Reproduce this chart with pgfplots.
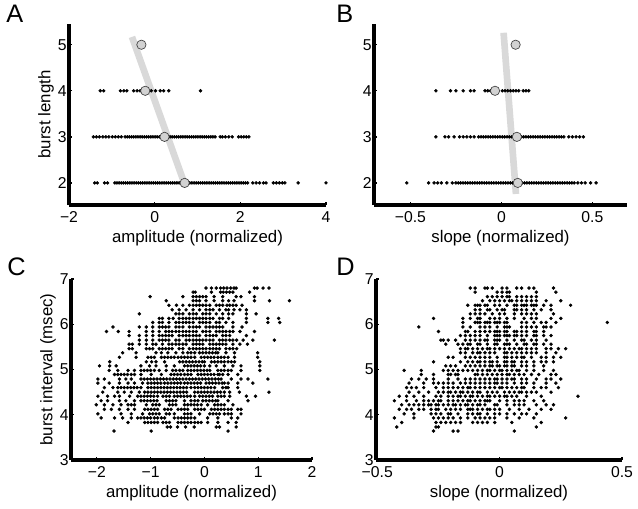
\documentclass[border=0pt]{standalone}
\usepackage{pgfplots}
\pgfplotsset{compat=1.18}
\usepackage{fontspec}
\setmainfont{Liberation Sans}
\pgfplotsset{panel/.style={
  scale only axis, clip=false, enlargelimits=false,
  axis x line=bottom, axis y line=left,
  axis line style={line width=2.4pt, -, black},
  tick align=inside, major tick length=2.5pt,
  tick style={line width=1pt, black},
  /pgf/number format/assume math mode=true,
  tick label style={font=\fontsize{11.8}{12}\selectfont, inner sep=1.5pt},
  xticklabel style={yshift=-3pt},
  label style={font=\fontsize{12.6}{13}\selectfont},
  xlabel style={yshift=-1pt},
  ylabel style={yshift=-2pt},
},
dots/.style={only marks, mark=*, mark size=1.1pt, black},
means/.style={only marks, mark=*, mark size=3.5pt, mark options={fill=gray!35, draw=black!75, line width=0.5pt}},
fit/.style={gray!30, line width=5pt}
}
\begin{document}
\begin{tikzpicture}
\path[use as bounding box] (0,0) rectangle (478.5pt,-381pt);
% ---------------- A ----------------
\begin{axis}[panel, at={(51.75pt,-153.75pt)}, anchor=south west,
  width=192.75pt, height=135.75pt, xmin=-2, xmax=4, ymin=1.52, ymax=5.45,
  xtick={-2,0,2,4}, xticklabels={−2,0,2,4}, ytick={2,3,4,5}, yticklabels={2,3,4,5},
  xlabel={amplitude (normalized)}, ylabel={burst length}]
\addplot[fit] coordinates {(-0.53,5.17)(0.72,1.92)};
\addplot[dots] coordinates {
(-1.40,2)(-1.34,2)(-1.17,2)(-1.10,2)
(-0.93,2)(-0.88,2)(-0.83,2)(-0.78,2)(-0.73,2)(-0.68,2)(-0.63,2)(-0.58,2)(-0.53,2)(-0.48,2)(-0.43,2)(-0.38,2)(-0.33,2)(-0.28,2)(-0.23,2)(-0.18,2)(-0.13,2)(-0.08,2)(-0.03,2)(0.02,2)(0.07,2)(0.12,2)(0.17,2)(0.22,2)(0.27,2)(0.32,2)(0.37,2)(0.42,2)(0.47,2)(0.52,2)(0.57,2)(0.62,2)(0.67,2)(0.72,2)(0.77,2)(0.82,2)(0.87,2)(0.92,2)(0.97,2)(1.02,2)(1.07,2)(1.12,2)(1.17,2)(1.22,2)(1.27,2)(1.32,2)(1.37,2)(1.42,2)(1.47,2)(1.52,2)(1.57,2)(1.62,2)(1.67,2)(1.72,2)(1.77,2)(1.82,2)(1.87,2)(1.92,2)(1.97,2)(2.02,2)(2.07,2)(2.12,2)(2.17,2)
(2.29,2)(2.37,2)(2.45,2)(2.54,2)(2.60,2)(2.77,2)(2.84,2)(2.91,2)(2.98,2)(3.04,2)(3.35,2)(4.00,2)
(-1.43,3)(-1.36,3)(-1.29,3)(-1.21,3)(-1.14,3)(-1.07,3)(-0.99,3)(-0.92,3)(-0.85,3)(-0.78,3)
(-0.69,3)(-0.64,3)(-0.59,3)(-0.54,3)(-0.49,3)(-0.44,3)(-0.39,3)(-0.34,3)(-0.29,3)(-0.24,3)(-0.19,3)(-0.14,3)(-0.09,3)(-0.04,3)(0.01,3)(0.06,3)(0.11,3)(0.16,3)(0.21,3)(0.26,3)(0.31,3)(0.36,3)(0.41,3)(0.46,3)(0.51,3)(0.56,3)(0.61,3)(0.66,3)(0.71,3)(0.76,3)(0.81,3)(0.86,3)(0.91,3)(0.96,3)(1.01,3)(1.06,3)(1.11,3)(1.16,3)(1.21,3)(1.26,3)(1.31,3)(1.36,3)(1.41,3)
(1.53,3)(1.58,3)(1.65,3)(1.73,3)(1.81,3)(1.96,3)(2.02,3)(2.08,3)(2.14,3)(2.20,3)
(-1.27,4)(-1.19,4)(-0.80,4)(-0.72,4)(-0.65,4)(-0.49,4)(-0.41,4)(-0.34,4)(-0.28,4)(-0.15,4)(-0.08,4)(0.02,4)(0.13,4)(0.21,4)(0.33,4)(1.07,4)
};
\addplot[means] coordinates {(0.70,2)(0.23,3)(-0.22,4)(-0.31,5)};
\end{axis}
% ---------------- B ----------------
\begin{axis}[panel, at={(280.5pt,-153.75pt)}, anchor=south west,
  width=189.75pt, height=135.75pt, xmin=-0.7, xmax=0.69, ymin=1.52, ymax=5.45,
  xtick={-0.5,0,0.5}, xticklabels={−0.5,0,0.5}, ytick={2,3,4,5}, yticklabels={2,3,4,5},
  xlabel={slope (normalized)}]
\addplot[fit] coordinates {(0.012,5.26)(0.08,1.76)};
\addplot[dots] coordinates {
(-0.52,2)(-0.40,2)(-0.37,2)(-0.35,2)(-0.33,2)(-0.30,2)(-0.27,2)
(-0.25,2)(-0.237,2)(-0.224,2)(-0.211,2)(-0.198,2)(-0.185,2)(-0.172,2)(-0.159,2)(-0.146,2)(-0.133,2)(-0.12,2)(-0.107,2)(-0.094,2)(-0.081,2)(-0.068,2)(-0.055,2)(-0.042,2)(-0.029,2)(-0.016,2)(-0.003,2)(0.01,2)(0.023,2)(0.036,2)(0.049,2)(0.062,2)(0.075,2)(0.088,2)(0.101,2)
(0.114,2)(0.127,2)(0.14,2)(0.153,2)(0.166,2)(0.179,2)(0.192,2)(0.205,2)(0.218,2)(0.231,2)(0.244,2)(0.257,2)(0.27,2)(0.283,2)(0.296,2)(0.309,2)(0.322,2)(0.335,2)(0.348,2)(0.361,2)(0.374,2)(0.387,2)(0.40,2)
(0.42,2)(0.44,2)(0.46,2)(0.49,2)(0.52,2)
(-0.36,3)(-0.31,3)(-0.29,3)(-0.26,3)(-0.23,3)(-0.21,3)(-0.19,3)(-0.17,3)(-0.15,3)
(-0.125,3)(-0.112,3)(-0.099,3)(-0.086,3)(-0.073,3)(-0.06,3)(-0.047,3)(-0.034,3)(-0.021,3)(-0.008,3)(0.005,3)(0.018,3)(0.031,3)(0.044,3)(0.057,3)(0.07,3)(0.083,3)(0.096,3)(0.109,3)
(0.122,3)(0.135,3)(0.148,3)(0.161,3)(0.174,3)(0.187,3)(0.2,3)(0.213,3)(0.226,3)(0.239,3)(0.252,3)(0.265,3)(0.278,3)(0.291,3)(0.304,3)(0.317,3)(0.33,3)(0.343,3)
(0.37,3)(0.39,3)(0.41,3)(0.43,3)(0.45,3)
(-0.36,4)(-0.28,4)(-0.25,4)(-0.21,4)(-0.17,4)(-0.15,4)(-0.09,4)(-0.075,4)(-0.06,4)
(0.005,4)(0.02,4)(0.035,4)(0.05,4)(0.065,4)(0.08,4)(0.095,4)(0.12,4)(0.135,4)(0.15,4)
};
\addplot[means] coordinates {(0.09,2)(0.085,3)(-0.035,4)(0.078,5)};
\end{axis}
% ---------------- C ----------------
\begin{axis}[panel, at={(53.25pt,-345pt)}, anchor=south west,
  width=180.75pt, height=135.75pt, xmin=-2.48, xmax=2, ymin=3, ymax=7,
  xtick={-2,-1,0,1,2}, xticklabels={−2,−1,0,1,2}, ytick={3,4,5,6,7}, yticklabels={3,4,5,6,7},
  xlabel={amplitude (normalized)}, ylabel={burst interval (msec)}]
\addplot[dots] coordinates {
(0.03,6.80)(0.13,6.80)(0.22,6.80)(0.30,6.80)(0.36,6.80)(0.42,6.80)(0.49,6.80)(0.55,6.80)(0.59,6.80)(0.93,6.80)(0.98,6.80)(1.09,6.80)(1.20,6.80)
(-0.21,6.71)(-0.17,6.71)(0.13,6.71)(0.30,6.71)(0.35,6.71)(0.41,6.71)(0.47,6.71)(0.53,6.71)(0.84,6.71)
(-1.01,6.61)(-0.40,6.61)(-0.21,6.61)(-0.15,6.61)(-0.09,6.61)(-0.03,6.61)(0.03,6.61)(0.18,6.61)(0.34,6.61)(0.59,6.61)(0.68,6.61)(0.93,6.61)
(-0.71,6.52)(-0.21,6.52)(-0.15,6.52)(-0.09,6.52)(0.03,6.52)(0.18,6.52)(0.34,6.52)(0.45,6.52)(0.55,6.52)(0.93,6.52)(1.21,6.52)(1.58,6.52)
(-0.66,6.42)(-0.52,6.42)(-0.40,6.42)(-0.28,6.42)(-0.21,6.42)(-0.15,6.42)(-0.09,6.42)(-0.03,6.42)(0.03,6.42)(0.10,6.42)(0.22,6.42)(0.28,6.42)(0.34,6.42)(0.42,6.42)(0.47,6.42)(0.53,6.42)(0.59,6.42)(0.70,6.42)
(-0.60,6.32)(-0.47,6.32)(-0.34,6.32)(-0.21,6.32)(-0.09,6.32)(0.03,6.32)(0.10,6.32)(0.16,6.32)(0.28,6.32)(0.40,6.32)(0.45,6.32)(0.55,6.32)(0.66,6.32)(0.78,6.32)
(-1.21,6.23)(-0.53,6.23)(-0.47,6.23)(-0.40,6.23)(-0.28,6.23)(-0.21,6.23)(-0.15,6.23)(-0.03,6.23)(0.03,6.23)(0.10,6.23)(0.22,6.23)(0.34,6.23)(0.45,6.23)(0.53,6.23)(0.78,6.23)(0.96,6.23)
(-0.84,6.13)(-0.78,6.13)(-0.66,6.13)(-0.58,6.13)(-0.47,6.13)(-0.40,6.13)(-0.34,6.13)(-0.28,6.13)(-0.21,6.13)(-0.15,6.13)(-0.09,6.13)(-0.03,6.13)(0.03,6.13)(0.10,6.13)(0.16,6.13)(0.28,6.13)(0.34,6.13)(0.45,6.13)(0.78,6.13)(1.18,6.13)(1.38,6.13)
(-0.96,6.04)(-0.84,6.04)(-0.78,6.04)(-0.66,6.04)(-0.53,6.04)(-0.47,6.04)(-0.40,6.04)(-0.34,6.04)(-0.28,6.04)(-0.21,6.04)(-0.09,6.04)(-0.03,6.04)(0.03,6.04)(0.10,6.04)(0.22,6.04)(0.28,6.04)(0.40,6.04)(0.53,6.04)(0.78,6.04)(1.18,6.04)(1.40,6.04)
(-1.70,5.94)(-1.21,5.94)(-1.08,5.94)(-0.96,5.94)(-0.84,5.94)(-0.78,5.94)(-0.72,5.94)(-0.66,5.94)(-0.53,5.94)(-0.47,5.94)(-0.40,5.94)(-0.28,5.94)(-0.21,5.94)(-0.15,5.94)(-0.09,5.94)(0.03,5.94)(0.10,5.94)(0.16,5.94)(0.22,5.94)(0.28,5.94)(0.34,5.94)(0.53,5.94)(0.70,5.94)
(-1.82,5.84)(-1.60,5.84)(-1.40,5.84)(-1.08,5.84)(-0.96,5.84)(-0.84,5.84)(-0.72,5.84)(-0.66,5.84)(-0.60,5.84)(-0.53,5.84)(-0.47,5.84)(-0.40,5.84)(-0.34,5.84)(-0.28,5.84)(-0.21,5.84)(-0.15,5.84)(-0.03,5.84)(0.03,5.84)(0.10,5.84)(0.22,5.84)(0.28,5.84)(0.34,5.84)(0.40,5.84)(0.47,5.84)(0.53,5.84)(0.66,5.84)(0.93,5.84)
(-1.40,5.75)(-1.21,5.75)(-1.08,5.75)(-0.96,5.75)(-0.84,5.75)(-0.78,5.75)(-0.72,5.75)(-0.66,5.75)(-0.60,5.75)(-0.47,5.75)(-0.40,5.75)(-0.34,5.75)(-0.28,5.75)(-0.21,5.75)(-0.15,5.75)(-0.09,5.75)(0.03,5.75)(0.10,5.75)(0.16,5.75)(0.22,5.75)(0.34,5.75)(0.40,5.75)(0.47,5.75)(0.78,5.75)
(-1.21,5.65)(-1.08,5.65)(-0.96,5.65)(-0.84,5.65)(-0.78,5.65)(-0.72,5.65)(-0.66,5.65)(-0.53,5.65)(-0.47,5.65)(-0.34,5.65)(-0.28,5.65)(-0.21,5.65)(-0.15,5.65)(-0.09,5.65)(-0.03,5.65)(0.03,5.65)(0.10,5.65)(0.16,5.65)(0.28,5.65)(0.34,5.65)(0.40,5.65)(0.47,5.65)(0.53,5.65)(0.60,5.65)(0.72,5.65)(0.90,5.65)(1.30,5.65)
(-1.40,5.56)(-1.34,5.56)(-1.21,5.56)(-1.08,5.56)(-0.96,5.56)(-0.90,5.56)(-0.78,5.56)(-0.66,5.56)(-0.60,5.56)(-0.53,5.56)(-0.47,5.56)(-0.40,5.56)(-0.34,5.56)(-0.21,5.56)(-0.15,5.56)(-0.09,5.56)(-0.03,5.56)(0.10,5.56)(0.16,5.56)(0.22,5.56)(0.28,5.56)(0.34,5.56)(0.40,5.56)(0.53,5.56)(0.66,5.56)(0.80,5.56)
(-1.40,5.46)(-1.34,5.46)(-1.08,5.46)(-1.02,5.46)(-0.96,5.46)(-0.84,5.46)(-0.78,5.46)(-0.72,5.46)(-0.66,5.46)(-0.60,5.46)(-0.47,5.46)(-0.40,5.46)(-0.28,5.46)(-0.21,5.46)(-0.15,5.46)(-0.09,5.46)(-0.03,5.46)(0.03,5.46)(0.10,5.46)(0.16,5.46)(0.22,5.46)(0.28,5.46)(0.40,5.46)(0.47,5.46)(0.53,5.46)(0.60,5.46)
(-1.52,5.37)(-1.27,5.37)(-0.90,5.37)(-0.80,5.37)(-0.68,5.37)(-0.53,5.37)(-0.40,5.37)(-0.31,5.37)(-0.25,5.37)(-0.18,5.37)(-0.09,5.37)(-0.03,5.37)(0.03,5.37)(0.09,5.37)(0.15,5.37)(0.21,5.37)(0.25,5.37)(0.40,5.37)(0.56,5.37)(0.99,5.37)
(-1.58,5.27)(-1.27,5.27)(-1.05,5.27)(-0.99,5.27)(-0.93,5.27)(-0.80,5.27)(-0.74,5.27)(-0.68,5.27)(-0.62,5.27)(-0.56,5.27)(-0.49,5.27)(-0.43,5.27)(-0.37,5.27)(-0.31,5.27)(-0.25,5.27)(-0.18,5.27)(-0.06,5.27)(0.00,5.27)(0.06,5.27)(0.12,5.27)(0.18,5.27)(0.25,5.27)(0.31,5.27)(0.37,5.27)(0.44,5.27)(0.56,5.27)(0.99,5.27)
(-1.76,5.17)(-1.08,5.17)(-0.98,5.17)(-0.90,5.17)(-0.74,5.17)(-0.46,5.17)(-0.40,5.17)(-0.34,5.17)(-0.28,5.17)(-0.22,5.17)(-0.16,5.17)(-0.10,5.17)(-0.04,5.17)(0.00,5.17)(0.13,5.17)(0.19,5.17)(0.25,5.17)(0.31,5.17)(0.37,5.17)(0.44,5.17)(0.50,5.17)(0.56,5.17)(1.03,5.17)
(-1.95,5.08)(-1.76,5.08)(-1.64,5.08)(-1.18,5.08)(-1.02,5.08)(-0.90,5.08)(-0.71,5.08)(-0.56,5.08)(-0.37,5.08)(-0.31,5.08)(-0.25,5.08)(-0.19,5.08)(-0.13,5.08)(-0.07,5.08)(0.00,5.08)(0.10,5.08)(0.22,5.08)(0.37,5.08)(0.53,5.08)(0.68,5.08)(1.03,5.08)
(-1.77,4.98)(-1.61,4.98)(-1.42,4.98)(-1.30,4.98)(-1.18,4.98)(-1.12,4.98)(-1.06,4.98)(-1.00,4.98)(-0.93,4.98)(-0.84,4.98)(-0.71,4.98)(-0.59,4.98)(-0.53,4.98)(-0.46,4.98)(-0.40,4.98)(-0.31,4.98)(-0.25,4.98)(-0.19,4.98)(-0.13,4.98)(-0.07,4.98)(-0.01,4.98)(0.05,4.98)(0.10,4.98)(0.25,4.98)(0.31,4.98)(0.37,4.98)(0.44,4.98)(0.50,4.98)(0.68,4.98)(1.03,4.98)
(-1.67,4.89)(-1.61,4.89)(-1.55,4.89)(-1.49,4.89)(-1.43,4.89)(-1.36,4.89)(-1.30,4.89)(-1.18,4.89)(-0.99,4.89)(-0.80,4.89)(-0.62,4.89)(-0.56,4.89)(-0.50,4.89)(-0.44,4.89)(-0.37,4.89)(-0.31,4.89)(-0.25,4.89)(-0.12,4.89)(-0.06,4.89)(0.00,4.89)(0.06,4.89)(0.12,4.89)(0.18,4.89)(0.25,4.89)(0.28,4.89)(0.34,4.89)(0.44,4.89)(0.62,4.89)
(-1.98,4.79)(-1.86,4.79)(-1.58,4.79)(-1.46,4.79)(-1.36,4.79)(-1.18,4.79)(-1.12,4.79)(-1.06,4.79)(-1.00,4.79)(-0.94,4.79)(-0.88,4.79)(-0.82,4.79)(-0.76,4.79)(-0.70,4.79)(-0.64,4.79)(-0.58,4.79)(-0.52,4.79)(-0.46,4.79)(-0.40,4.79)(-0.34,4.79)(-0.28,4.79)(-0.22,4.79)(-0.16,4.79)(-0.10,4.79)(-0.04,4.79)(0.02,4.79)(0.08,4.79)(0.14,4.79)(0.20,4.79)(0.26,4.79)(0.31,4.79)(0.50,4.79)(0.68,4.79)(0.81,4.79)(1.18,4.79)
(-1.98,4.70)(-1.77,4.70)(-1.58,4.70)(-1.42,4.70)(-1.30,4.70)(-1.15,4.70)(-1.05,4.70)(-0.99,4.70)(-0.93,4.70)(-0.87,4.70)(-0.81,4.70)(-0.74,4.70)(-0.68,4.70)(-0.62,4.70)(-0.56,4.70)(-0.50,4.70)(-0.44,4.70)(-0.37,4.70)(-0.31,4.70)(-0.25,4.70)(-0.19,4.70)(-0.13,4.70)(-0.07,4.70)(0.03,4.70)(0.09,4.70)(0.15,4.70)(0.21,4.70)(0.27,4.70)(0.33,4.70)(0.37,4.70)(0.44,4.70)(0.62,4.70)(0.90,4.70)
(-1.86,4.60)(-1.70,4.60)(-1.61,4.60)(-1.55,4.60)(-1.49,4.60)(-1.43,4.60)(-1.37,4.60)(-1.31,4.60)(-1.25,4.60)(-1.18,4.60)(-1.05,4.60)(-0.99,4.60)(-0.93,4.60)(-0.87,4.60)(-0.81,4.60)(-0.75,4.60)(-0.69,4.60)(-0.63,4.60)(-0.57,4.60)(-0.51,4.60)(-0.45,4.60)(-0.39,4.60)(-0.33,4.60)(-0.25,4.60)(-0.18,4.60)(-0.12,4.60)(-0.06,4.60)(0.00,4.60)(0.06,4.60)(0.12,4.60)(0.19,4.60)(0.34,4.60)(0.40,4.60)(0.44,4.60)(0.62,4.60)
(-1.89,4.50)(-1.61,4.50)(-1.49,4.50)(-1.36,4.50)(-1.21,4.50)(-1.11,4.50)(-1.05,4.50)(-0.99,4.50)(-0.93,4.50)(-0.87,4.50)(-0.81,4.50)(-0.75,4.50)(-0.69,4.50)(-0.63,4.50)(-0.57,4.50)(-0.51,4.50)(-0.45,4.50)(-0.39,4.50)(-0.33,4.50)(-0.18,4.50)(-0.12,4.50)(-0.06,4.50)(0.00,4.50)(0.06,4.50)(0.12,4.50)(0.18,4.50)(0.24,4.50)(0.30,4.50)(0.37,4.50)(0.47,4.50)(0.65,4.50)(1.20,4.50)
(-1.98,4.41)(-1.80,4.41)(-1.67,4.41)(-1.58,4.41)(-1.39,4.41)(-1.24,4.41)(-1.18,4.41)(-1.12,4.41)(-1.06,4.41)(-1.00,4.41)(-0.94,4.41)(-0.87,4.41)(-0.77,4.41)(-0.71,4.41)(-0.65,4.41)(-0.56,4.41)(-0.50,4.41)(-0.44,4.41)(-0.38,4.41)(-0.32,4.41)(-0.26,4.41)(-0.18,4.41)(-0.09,4.41)(-0.03,4.41)(0.03,4.41)(0.09,4.41)(0.15,4.41)(0.25,4.41)(0.31,4.41)(0.37,4.41)(0.47,4.41)(0.78,4.41)(0.95,4.41)
(-1.92,4.31)(-1.80,4.31)(-1.58,4.31)(-1.46,4.31)(-1.30,4.31)(-1.18,4.31)(-1.12,4.31)(-1.06,4.31)(-1.00,4.31)(-0.94,4.31)(-0.88,4.31)(-0.71,4.31)(-0.65,4.31)(-0.59,4.31)(-0.53,4.31)(-0.37,4.31)(-0.25,4.31)(-0.18,4.31)(-0.12,4.31)(-0.03,4.31)(0.03,4.31)(0.09,4.31)(0.15,4.31)(0.21,4.31)(0.25,4.31)(0.44,4.31)(0.81,4.31)
(-2.01,4.22)(-1.86,4.22)(-1.70,4.22)(-1.55,4.22)(-1.42,4.22)(-1.36,4.22)(-1.30,4.22)(-1.08,4.22)(-0.96,4.22)(-0.90,4.22)(-0.84,4.22)(-0.65,4.22)(-0.59,4.22)(-0.53,4.22)(-0.37,4.22)(-0.31,4.22)(-0.25,4.22)(-0.19,4.22)(-0.13,4.22)(-0.06,4.22)(0.06,4.22)(0.19,4.22)(0.25,4.22)(0.31,4.22)(0.37,4.22)(0.53,4.22)
(-1.86,4.12)(-1.73,4.12)(-1.58,4.12)(-1.42,4.12)(-1.30,4.12)(-1.11,4.12)(-1.05,4.12)(-0.99,4.12)(-0.93,4.12)(-0.87,4.12)(-0.74,4.12)(-0.68,4.12)(-0.62,4.12)(-0.49,4.12)(-0.43,4.12)(-0.37,4.12)(-0.31,4.12)(-0.18,4.12)(-0.12,4.12)(-0.06,4.12)(0.00,4.12)(0.13,4.12)(0.19,4.12)(0.25,4.12)(0.31,4.12)(0.37,4.12)(0.44,4.12)(0.50,4.12)(0.62,4.12)(0.68,4.12)
(-1.98,4.02)(-1.55,4.02)(-1.36,4.02)(-1.15,4.02)(-1.02,4.02)(-0.96,4.02)(-0.90,4.02)(-0.84,4.02)(-0.71,4.02)(-0.65,4.02)(-0.56,4.02)(-0.37,4.02)(-0.31,4.02)(-0.25,4.02)(-0.09,4.02)(0.10,4.02)(0.16,4.02)(0.22,4.02)(0.28,4.02)(0.37,4.02)(0.44,4.02)(0.50,4.02)(0.68,4.02)
(-1.92,3.93)(-1.67,3.93)(-1.52,3.93)(-1.36,3.93)(-1.24,3.93)(-1.18,3.93)(-1.12,3.93)(-1.06,3.93)(-1.00,3.93)(-0.93,3.93)(-0.87,3.93)(-0.80,3.93)(-0.74,3.93)(-0.56,3.93)(-0.49,3.93)(-0.43,3.93)(-0.37,3.93)(-0.31,3.93)(-0.25,3.93)(-0.18,3.93)(0.06,3.93)(0.25,3.93)(0.50,3.93)(0.62,3.93)
(-1.42,3.83)(-1.11,3.83)(-1.05,3.83)(-0.99,3.83)(-0.93,3.83)(-0.87,3.83)(-0.77,3.83)(-0.71,3.83)(-0.65,3.83)(-0.49,3.83)(-0.43,3.83)(-0.37,3.83)(-0.31,3.83)(-0.25,3.83)(-0.18,3.83)(-0.12,3.83)(-0.06,3.83)(0.06,3.83)(0.25,3.83)(0.44,3.83)(0.59,3.83)
(-0.69,3.73)(-0.63,3.73)(-0.50,3.73)(-0.35,3.73)(-0.19,3.73)(0.22,3.73)(0.28,3.73)(0.59,3.73)
(-1.68,3.64)(-0.99,3.64)(0.44,3.64)
};
\end{axis}
% ---------------- D ----------------
\begin{axis}[panel, at={(282pt,-345pt)}, anchor=south west,
  width=184.5pt, height=135.75pt, xmin=-0.505, xmax=0.5, ymin=3, ymax=7,
  xtick={-0.5,0,0.5}, xticklabels={−0.5,0,0.5}, ytick={3,4,5,6,7}, yticklabels={3,4,5,6,7},
  xlabel={slope (normalized)}]
\addplot[dots] coordinates {
(-0.12,6.80)(-0.10,6.80)(-0.06,6.80)(-0.05,6.80)(-0.03,6.80)(0.01,6.80)(0.03,6.80)(0.07,6.80)(0.09,6.80)(0.12,6.80)(0.14,6.80)(0.22,6.80)
(-0.10,6.71)(-0.01,6.71)(0.01,6.71)(0.03,6.71)(0.04,6.71)(0.15,6.71)(0.23,6.71)
(-0.05,6.61)(-0.03,6.61)(-0.01,6.61)(0.01,6.61)(0.03,6.61)(0.04,6.61)(0.07,6.61)(0.09,6.61)(0.11,6.61)(0.13,6.61)(0.15,6.61)
(-0.07,6.52)(-0.04,6.52)(-0.02,6.52)(0.00,6.52)(0.02,6.52)(0.04,6.52)(0.05,6.52)(0.07,6.52)(0.09,6.52)(0.11,6.52)(0.13,6.52)(0.15,6.52)(0.19,6.52)(0.25,6.52)
(-0.13,6.42)(-0.10,6.42)(-0.09,6.42)(-0.08,6.42)(-0.06,6.42)(-0.05,6.42)(-0.02,6.42)(0.00,6.42)(0.03,6.42)(0.06,6.42)(0.07,6.42)(0.09,6.42)(0.10,6.42)(0.11,6.42)(0.13,6.42)(0.14,6.42)(0.15,6.42)(0.18,6.42)(0.21,6.42)(0.29,6.42)
(-0.10,6.32)(-0.08,6.32)(-0.05,6.32)(-0.04,6.32)(-0.01,6.32)(0.01,6.32)(0.02,6.32)(0.06,6.32)(0.07,6.32)(0.09,6.32)(0.11,6.32)(0.14,6.32)(0.17,6.32)(0.21,6.32)
(-0.12,6.23)(-0.10,6.23)(-0.08,6.23)(-0.06,6.23)(-0.03,6.23)(0.00,6.23)(0.02,6.23)(0.06,6.23)(0.09,6.23)(0.11,6.23)(0.13,6.23)(0.15,6.23)(0.22,6.23)
(-0.27,6.13)(-0.15,6.13)(-0.12,6.13)(-0.09,6.13)(-0.08,6.13)(-0.04,6.13)(-0.02,6.13)(0.00,6.13)(0.03,6.13)(0.06,6.13)(0.10,6.13)(0.13,6.13)(0.15,6.13)(0.21,6.13)(0.25,6.13)
(-0.15,6.04)(-0.10,6.04)(-0.09,6.04)(-0.08,6.04)(-0.06,6.04)(-0.05,6.04)(-0.04,6.04)(-0.02,6.04)(-0.01,6.04)(0.00,6.04)(0.02,6.04)(0.03,6.04)(0.09,6.04)(0.11,6.04)(0.14,6.04)(0.17,6.04)(0.19,6.04)(0.23,6.04)(0.44,6.04)
(-0.33,5.94)(-0.15,5.94)(-0.12,5.94)(-0.08,5.94)(-0.06,5.94)(-0.04,5.94)(-0.01,5.94)(0.02,5.94)(0.03,5.94)(0.04,5.94)(0.09,5.94)(0.11,5.94)(0.13,5.94)(0.15,5.94)(0.18,5.94)(0.19,5.94)(0.21,5.94)
(-0.25,5.84)(-0.14,5.84)(-0.13,5.84)(-0.10,5.84)(-0.08,5.84)(-0.06,5.84)(-0.04,5.84)(-0.02,5.84)(-0.01,5.84)(0.00,5.84)(0.02,5.84)(0.03,5.84)(0.06,5.84)(0.07,5.84)(0.09,5.84)(0.11,5.84)(0.14,5.84)(0.15,5.84)(0.18,5.84)
(-0.16,5.75)(-0.14,5.75)(-0.12,5.75)(-0.10,5.75)(-0.08,5.75)(-0.05,5.75)(-0.02,5.75)(-0.01,5.75)(0.00,5.75)(0.02,5.75)(0.03,5.75)(0.04,5.75)(0.06,5.75)(0.07,5.75)(0.09,5.75)(0.11,5.75)(0.14,5.75)(0.15,5.75)(0.18,5.75)(0.21,5.75)
(-0.24,5.65)(-0.23,5.65)(-0.21,5.65)(-0.18,5.65)(-0.14,5.65)(-0.12,5.65)(-0.10,5.65)(-0.08,5.65)(-0.06,5.65)(-0.05,5.65)(-0.02,5.65)(-0.01,5.65)(0.00,5.65)(0.03,5.65)(0.06,5.65)(0.09,5.65)(0.10,5.65)(0.13,5.65)(0.15,5.65)(0.19,5.65)
(-0.22,5.56)(-0.17,5.56)(-0.15,5.56)(-0.13,5.56)(-0.12,5.56)(-0.09,5.56)(-0.08,5.56)(-0.05,5.56)(-0.02,5.56)(-0.01,5.56)(0.02,5.56)(0.03,5.56)(0.04,5.56)(0.07,5.56)(0.10,5.56)(0.11,5.56)(0.14,5.56)(0.15,5.56)(0.18,5.56)(0.21,5.56)
(-0.16,5.46)(-0.14,5.46)(-0.13,5.46)(-0.11,5.46)(-0.09,5.46)(-0.07,5.46)(-0.05,5.46)(-0.04,5.46)(-0.02,5.46)(0.00,5.46)(0.02,5.46)(0.04,5.46)(0.06,5.46)(0.08,5.46)(0.09,5.46)(0.11,5.46)(0.13,5.46)(0.15,5.46)(0.19,5.46)(0.21,5.46)(0.24,5.46)(0.27,5.46)
(-0.16,5.37)(-0.14,5.37)(-0.11,5.37)(-0.09,5.37)(-0.08,5.37)(-0.06,5.37)(-0.04,5.37)(-0.02,5.37)(0.02,5.37)(0.03,5.37)(0.05,5.37)(0.07,5.37)(0.09,5.37)(0.11,5.37)(0.13,5.37)(0.15,5.37)(0.19,5.37)(0.23,5.37)
(-0.21,5.27)(-0.19,5.27)(-0.14,5.27)(-0.12,5.27)(-0.10,5.27)(-0.08,5.27)(-0.06,5.27)(-0.04,5.27)(-0.01,5.27)(0.02,5.27)(0.03,5.27)(0.05,5.27)(0.07,5.27)(0.09,5.27)(0.10,5.27)(0.13,5.27)(0.17,5.27)(0.19,5.27)(0.22,5.27)(0.25,5.27)
(-0.27,5.17)(-0.16,5.17)(-0.13,5.17)(-0.11,5.17)(-0.09,5.17)(-0.08,5.17)(-0.06,5.17)(-0.04,5.17)(-0.03,5.17)(-0.01,5.17)(0.02,5.17)(0.03,5.17)(0.05,5.17)(0.06,5.17)(0.09,5.17)(0.11,5.17)(0.14,5.17)(0.17,5.17)(0.19,5.17)(0.22,5.17)
(-0.22,5.08)(-0.20,5.08)(-0.18,5.08)(-0.14,5.08)(-0.12,5.08)(-0.10,5.08)(-0.08,5.08)(-0.06,5.08)(-0.04,5.08)(-0.03,5.08)(-0.01,5.08)(0.00,5.08)(0.02,5.08)(0.03,5.08)(0.05,5.08)(0.06,5.08)(0.09,5.08)(0.11,5.08)(0.14,5.08)(0.18,5.08)
(-0.39,4.98)(-0.32,4.98)(-0.23,4.98)(-0.21,4.98)(-0.19,4.98)(-0.17,4.98)(-0.15,4.98)(-0.13,4.98)(-0.11,4.98)(-0.09,4.98)(-0.07,4.98)(-0.05,4.98)(-0.04,4.98)(-0.02,4.98)(0.00,4.98)(0.01,4.98)(0.03,4.98)(0.05,4.98)(0.07,4.98)(0.08,4.98)(0.11,4.98)(0.14,4.98)(0.18,4.98)(0.22,4.98)
(-0.32,4.89)(-0.27,4.89)(-0.21,4.89)(-0.20,4.89)(-0.18,4.89)(-0.17,4.89)(-0.10,4.89)(-0.09,4.89)(-0.07,4.89)(-0.05,4.89)(-0.03,4.89)(-0.01,4.89)(0.01,4.89)(0.03,4.89)(0.04,4.89)(0.06,4.89)(0.08,4.89)(0.10,4.89)(0.13,4.89)(0.16,4.89)(0.21,4.89)(0.23,4.89)
(-0.36,4.79)(-0.33,4.79)(-0.30,4.79)(-0.27,4.79)(-0.21,4.79)(-0.17,4.79)(-0.14,4.79)(-0.12,4.79)(-0.10,4.79)(-0.08,4.79)(-0.06,4.79)(-0.04,4.79)(-0.02,4.79)(-0.01,4.79)(0.01,4.79)(0.03,4.79)(0.05,4.79)(0.06,4.79)(0.09,4.79)(0.11,4.79)(0.15,4.79)(0.19,4.79)(0.21,4.79)(0.25,4.79)
(-0.37,4.70)(-0.31,4.70)(-0.27,4.70)(-0.25,4.70)(-0.23,4.70)(-0.21,4.70)(-0.19,4.70)(-0.16,4.70)(-0.14,4.70)(-0.12,4.70)(-0.10,4.70)(-0.08,4.70)(-0.06,4.70)(-0.04,4.70)(-0.02,4.70)(-0.01,4.70)(0.01,4.70)(0.03,4.70)(0.06,4.70)(0.09,4.70)(0.11,4.70)(0.14,4.70)(0.19,4.70)(0.23,4.70)
(-0.38,4.60)(-0.36,4.60)(-0.34,4.60)(-0.31,4.60)(-0.26,4.60)(-0.23,4.60)(-0.21,4.60)(-0.19,4.60)(-0.17,4.60)(-0.15,4.60)(-0.13,4.60)(-0.12,4.60)(-0.10,4.60)(-0.08,4.60)(-0.06,4.60)(-0.04,4.60)(-0.02,4.60)(0.00,4.60)(0.01,4.60)(0.03,4.60)(0.05,4.60)(0.07,4.60)(0.09,4.60)(0.10,4.60)(0.14,4.60)(0.17,4.60)(0.19,4.60)(0.24,4.60)
(-0.37,4.50)(-0.33,4.50)(-0.29,4.50)(-0.25,4.50)(-0.23,4.50)(-0.21,4.50)(-0.20,4.50)(-0.18,4.50)(-0.16,4.50)(-0.15,4.50)(-0.13,4.50)(-0.11,4.50)(-0.09,4.50)(-0.08,4.50)(-0.05,4.50)(-0.03,4.50)(-0.01,4.50)(0.02,4.50)(0.04,4.50)(0.06,4.50)(0.08,4.50)(0.09,4.50)(0.11,4.50)(0.13,4.50)(0.15,4.50)(0.21,4.50)
(-0.41,4.41)(-0.38,4.41)(-0.35,4.41)(-0.31,4.41)(-0.26,4.41)(-0.24,4.41)(-0.21,4.41)(-0.19,4.41)(-0.17,4.41)(-0.16,4.41)(-0.14,4.41)(-0.12,4.41)(-0.11,4.41)(-0.09,4.41)(-0.07,4.41)(-0.05,4.41)(-0.04,4.41)(-0.02,4.41)(0.00,4.41)(0.02,4.41)(0.03,4.41)(0.05,4.41)(0.07,4.41)(0.11,4.41)(0.17,4.41)(0.32,4.41)
(-0.43,4.31)(-0.38,4.31)(-0.34,4.31)(-0.31,4.31)(-0.29,4.31)(-0.27,4.31)(-0.25,4.31)(-0.24,4.31)(-0.21,4.31)(-0.19,4.31)(-0.17,4.31)(-0.15,4.31)(-0.13,4.31)(-0.12,4.31)(-0.10,4.31)(-0.08,4.31)(-0.06,4.31)(-0.05,4.31)(-0.04,4.31)(0.00,4.31)(0.03,4.31)(0.06,4.31)(0.08,4.31)(0.10,4.31)(0.14,4.31)(0.18,4.31)
(-0.40,4.22)(-0.37,4.22)(-0.35,4.22)(-0.33,4.22)(-0.31,4.22)(-0.29,4.22)(-0.28,4.22)(-0.26,4.22)(-0.25,4.22)(-0.23,4.22)(-0.21,4.22)(-0.19,4.22)(-0.18,4.22)(-0.16,4.22)(-0.14,4.22)(-0.13,4.22)(-0.11,4.22)(-0.09,4.22)(-0.08,4.22)(-0.06,4.22)(-0.02,4.22)(-0.01,4.22)(0.03,4.22)(0.06,4.22)(0.08,4.22)(0.10,4.22)(0.15,4.22)(0.19,4.22)(0.22,4.22)
(-0.41,4.12)(-0.38,4.12)(-0.36,4.12)(-0.33,4.12)(-0.31,4.12)(-0.28,4.12)(-0.26,4.12)(-0.25,4.12)(-0.22,4.12)(-0.20,4.12)(-0.18,4.12)(-0.16,4.12)(-0.13,4.12)(-0.12,4.12)(-0.11,4.12)(-0.09,4.12)(-0.07,4.12)(-0.05,4.12)(-0.04,4.12)(-0.02,4.12)(0.00,4.12)(0.04,4.12)(0.08,4.12)(0.12,4.12)(0.17,4.12)(0.21,4.12)
(-0.39,4.02)(-0.35,4.02)(-0.28,4.02)(-0.26,4.02)(-0.24,4.02)(-0.21,4.02)(-0.20,4.02)(-0.17,4.02)(-0.13,4.02)(-0.11,4.02)(-0.09,4.02)(-0.08,4.02)(-0.05,4.02)(-0.02,4.02)(0.00,4.02)(0.03,4.02)(0.06,4.02)(0.09,4.02)(0.11,4.02)(0.15,4.02)
(-0.43,3.93)(-0.35,3.93)(-0.27,3.93)(-0.25,3.93)(-0.23,3.93)(-0.21,3.93)(-0.19,3.93)(-0.16,3.93)(-0.13,3.93)(-0.10,3.93)(-0.08,3.93)(-0.06,3.93)(-0.04,3.93)(-0.02,3.93)(0.03,3.93)(0.08,3.93)(0.14,3.93)(0.27,3.93)
(-0.40,3.83)(-0.26,3.83)(-0.24,3.83)(-0.22,3.83)(-0.20,3.83)(-0.18,3.83)(-0.16,3.83)(-0.11,3.83)(-0.09,3.83)(-0.07,3.83)(-0.05,3.83)(-0.02,3.83)(0.05,3.83)(0.17,3.83)
(-0.42,3.73)(-0.26,3.73)(-0.25,3.73)(0.15,3.73)
(-0.27,3.64)(-0.19,3.64)(-0.17,3.64)(0.06,3.64)
};
\end{axis}
\node[anchor=base west, font=\fontsize{19}{19}\selectfont, inner sep=0pt] at (4.5pt,-16.5pt) {A};
\node[anchor=base west, font=\fontsize{19}{19}\selectfont, inner sep=0pt] at (252pt,-16.5pt) {B};
\node[anchor=base west, font=\fontsize{19}{19}\selectfont, inner sep=0pt] at (5.25pt,-206.25pt) {C};
\node[anchor=base west, font=\fontsize{19}{19}\selectfont, inner sep=0pt] at (252pt,-206.25pt) {D};
\end{tikzpicture}
\end{document}
